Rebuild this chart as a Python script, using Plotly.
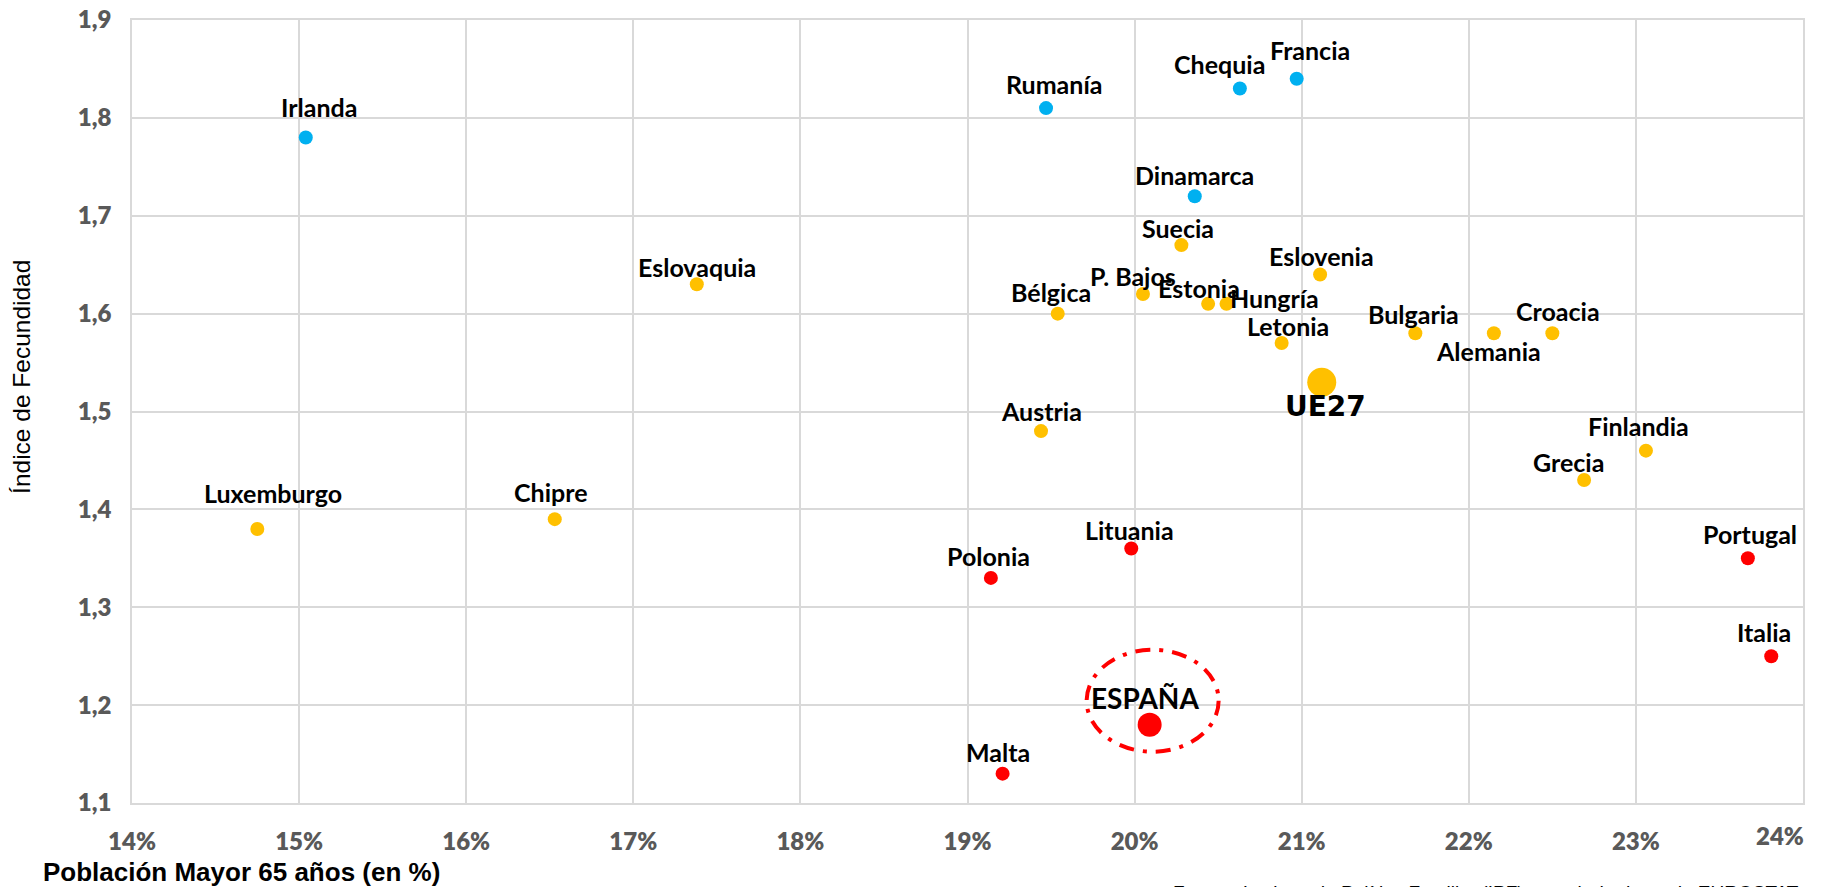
import plotly.graph_objects as go

# ---------------- data ----------------
paises = ["Irlanda", "Rumanía", "Chequia", "Francia", "Dinamarca",
          "Suecia", "Eslovenia", "Eslovaquia", "P. Bajos", "Bélgica",
          "Estonia", "Hungría", "Letonia", "UE27", "Bulgaria", "Alemania",
          "Croacia", "Austria", "Finlandia", "Grecia", "Luxemburgo", "Chipre",
          "Lituania", "Polonia", "Portugal", "Italia", "ESPAÑA", "Malta"]
pob65 = [15.04, 19.47, 20.63, 20.97, 20.36,
         20.28, 21.11, 17.38, 20.05, 19.54,
         20.44, 20.55, 20.88, 21.12, 21.68, 22.15,
         22.50, 19.44, 23.06, 22.69, 14.75, 16.53,
         19.98, 19.14, 23.67, 23.81, 20.09, 19.21]
fecundidad = [1.78, 1.81, 1.83, 1.84, 1.72,
              1.67, 1.64, 1.63, 1.62, 1.60,
              1.61, 1.61, 1.57, 1.53, 1.58, 1.58,
              1.58, 1.48, 1.46, 1.43, 1.38, 1.39,
              1.36, 1.33, 1.35, 1.25, 1.18, 1.13]
grupo = ["alta", "alta", "alta", "alta", "alta",
         "media", "media", "media", "media", "media",
         "media", "media", "media", "media", "media", "media",
         "media", "media", "media", "media", "media", "media",
         "baja", "baja", "baja", "baja", "baja", "baja"]

x_ticks = [14, 15, 16, 17, 18, 19, 20, 21, 22, 23, 24]
y_ticks = [1.1, 1.2, 1.3, 1.4, 1.5, 1.6, 1.7, 1.8, 1.9]

# ---------------- styles ----------------
colores = {"alta": "#00B0F0", "media": "#FFC000", "baja": "#FF0000"}
tamano_especial = {"UE27": 29, "ESPAÑA": 24}
tamano_normal = 14

# label offsets in pixels (dx right, dy down)
offsets = {
    "Irlanda": (13, -30), "Rumanía": (8, -24), "Chequia": (-20, -25),
    "Francia": (13, -29), "Dinamarca": (0, -21), "Suecia": (-3, -17),
    "Eslovenia": (1, -18), "Eslovaquia": (0, -17), "P. Bajos": (-10, -18),
    "Bélgica": (-7, -22), "Estonia": (-9, -16), "Hungría": (48, -6),
    "Letonia": (6, -17), "UE27": (4, 24), "Bulgaria": (-2, -19),
    "Alemania": (-5, 18), "Croacia": (6, -22), "Austria": (0, -20),
    "Finlandia": (-7, -25), "Grecia": (-16, -18), "Luxemburgo": (16, -36),
    "Chipre": (-4, -27), "Lituania": (-2, -19), "Polonia": (-2, -22),
    "Portugal": (2, -24), "Italia": (-7, -24), "ESPAÑA": (-5, -27),
    "Malta": (-5, -22),
}

tick_font = dict(family="Lato", size=24, color="#595959", weight=800)

fig = go.Figure()

for g in ["alta", "media", "baja"]:
    idx = [i for i, gg in enumerate(grupo) if gg == g]
    fig.add_trace(go.Scatter(
        x=[pob65[i] for i in idx],
        y=[fecundidad[i] for i in idx],
        mode="markers",
        marker=dict(color=colores[g], opacity=1,
                    size=[tamano_especial.get(paises[i], tamano_normal) for i in idx],
                    line=dict(width=0)),
        text=[paises[i] for i in idx],
        hoverinfo="text+x+y",
        showlegend=False,
        cliponaxis=False,
    ))

annotations = []
for p, xv, yv in zip(paises, pob65, fecundidad):
    dx, dy = offsets[p]
    if p == "UE27":
        fnt = dict(family="DejaVu Sans", size=28, color="#000000", weight="bold")
    elif p == "ESPAÑA":
        fnt = dict(family="Lato", size=28, color="#000000", weight="bold")
    else:
        fnt = dict(family="Lato", size=25, color="#000000", weight="bold")
    annotations.append(dict(
        x=xv, y=yv, xref="x", yref="y", text=p, showarrow=False,
        xanchor="center", yanchor="middle", xshift=dx, yshift=-dy,
        font=fnt,
    ))

# last x tick label, pulled inside the page like the original
annotations.append(dict(
    x=x_ticks[-1], y=-0.042, xref="x", yref="paper", text=f"{x_ticks[-1]}%",
    showarrow=False, xanchor="center", yanchor="middle", xshift=-23,
    font=tick_font,
))

# axis titles and source
annotations.append(dict(
    text="Población Mayor 65 años (en %)", xref="paper", yref="paper",
    x=0.0655, y=-0.0875, xanchor="center", yanchor="middle", showarrow=False,
    font=dict(family="Liberation Sans", size=26, color="#000000", weight="bold"),
))
annotations.append(dict(
    text="Índice de Fecundidad", xref="paper", yref="paper",
    x=-0.0665, y=0.544, xanchor="center", yanchor="middle", showarrow=False,
    textangle=-90,
    font=dict(family="Liberation Sans", size=24.5, color="#000000"),
))
annotations.append(dict(
    text="Fuente: Instituto de Política Familiar (IPF) a partir de datos de EUROSTAT",
    xref="paper", yref="paper", x=0.622, y=-0.098, xanchor="left", yanchor="top",
    showarrow=False,
    font=dict(family="Liberation Sans", size=19, color="#000000"),
))

# dashed ellipse around Spain
i_esp = paises.index("ESPAÑA")
shapes = [dict(
    type="circle", xref="x", yref="y",
    xsizemode="pixel", ysizemode="pixel",
    xanchor=pob65[i_esp], yanchor=fecundidad[i_esp],
    x0=-63, x1=69, y0=-27, y1=75,
    line=dict(color="#FF0000", width=4, dash="15px,9px,4px,9px"),
    fillcolor="rgba(0,0,0,0)",
)]

grid_col = "#D9D9D9"
fig.update_layout(
    width=1826, height=887, autosize=False,
    margin=dict(l=132, r=23, t=20, b=84),
    paper_bgcolor="white", plot_bgcolor="white",
    separators=",.",
    annotations=annotations,
    shapes=shapes,
    xaxis=dict(
        range=[14, 24], tickvals=x_ticks,
        ticktext=[f"{v}%" if v != x_ticks[-1] else "" for v in x_ticks],
        showgrid=True, gridcolor=grid_col, gridwidth=1.5,
        showline=True, linecolor=grid_col, linewidth=1.5, mirror=True,
        zeroline=False, ticks="", ticklabelstandoff=16, automargin=False,
        tickfont=tick_font,
    ),
    yaxis=dict(
        range=[1.1, 1.9], tickvals=y_ticks, tickformat=".1f",
        showgrid=True, gridcolor=grid_col, gridwidth=1.5,
        showline=True, linecolor=grid_col, linewidth=1.5, mirror=True,
        zeroline=False, ticks="", ticklabelstandoff=14, automargin=False,
        tickfont=tick_font,
    ),
)

fig.write_html("out.html",
               config={"displayModeBar": False},
               post_script="document.body.style.margin='0';document.body.style.overflow='hidden';")
